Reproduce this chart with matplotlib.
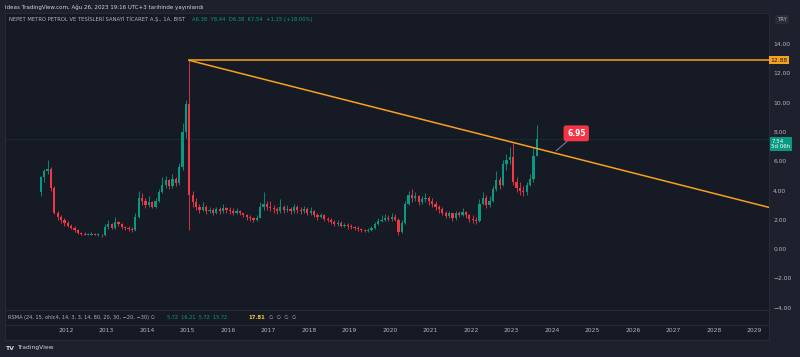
import matplotlib
matplotlib.use("Agg")
import matplotlib.pyplot as plt
import matplotlib.transforms as mtransforms
import numpy as np

# monthly candles, May 2011 .. Aug 2023 (open = previous close)
first_open = 3.9
start_year, start_month = 2011, 5
close = [
    4.9, 5.3, 5.5, 4.2, 2.5, 2.2, 2.0, 1.8,                          # 2011 May-Dec
    1.6, 1.45, 1.3, 1.1, 1.05, 1.0, 1.0, 1.05, 1.0, 1.0, 0.95, 1.5,  # 2012
    1.7, 1.45, 1.85, 1.7, 1.5, 1.45, 1.35, 1.3, 2.2, 3.5, 3.3, 3.0,  # 2013
    3.2, 2.9, 3.3, 3.9, 4.4, 4.7, 4.3, 4.8, 4.5, 5.6, 8.0, 9.9,      # 2014
    3.7, 3.2, 2.9, 2.7, 2.9, 2.6, 2.7, 2.5, 2.75, 2.6, 2.8, 2.7,     # 2015
    2.6, 2.5, 2.6, 2.45, 2.3, 2.2, 2.1, 2.0, 2.15, 2.9, 3.1, 2.9,    # 2016
    2.8, 2.75, 2.6, 2.85, 2.65, 2.75, 2.6, 2.85, 2.7, 2.6, 2.75, 2.5,  # 2017
    2.6, 2.35, 2.2, 2.3, 2.05, 2.0, 1.85, 1.7, 1.8, 1.6, 1.65, 1.55,   # 2018
    1.5, 1.45, 1.35, 1.3, 1.25, 1.3, 1.45, 1.7, 1.95, 2.0, 2.15, 2.05, # 2019
    2.2, 2.0, 1.2, 1.8, 3.1, 3.7, 3.5, 3.6, 3.2, 3.4, 3.5, 3.3,      # 2020
    3.1, 2.9, 2.75, 2.5, 2.25, 2.45, 2.1, 2.45, 2.35, 2.55, 2.3, 2.05, # 2021
    2.0, 1.9, 3.1, 3.5, 3.0, 3.3, 4.1, 4.7, 4.4, 5.8, 6.1, 6.3,      # 2022
    4.6, 4.2, 4.0, 3.9, 4.4, 4.8, 6.38, 7.54,                        # 2023 Jan-Aug
]
high = [
    5.0, 5.5, 6.05, 5.6, 4.3, 2.6, 2.3, 2.1,
    1.9, 1.7, 1.55, 1.35, 1.2, 1.15, 1.1, 1.15, 1.1, 1.1, 1.05, 1.7,
    2.0, 1.8, 2.2, 1.95, 1.8, 1.6, 1.55, 1.5, 2.5, 4.0, 3.8, 3.5,
    3.6, 3.3, 3.5, 4.1, 4.9, 5.0, 4.8, 5.1, 4.9, 5.9, 8.6, 10.2,
    12.88, 4.0, 3.5, 3.1, 3.2, 3.0, 2.9, 2.8, 2.9, 2.85, 3.1, 2.9,
    2.9, 2.8, 2.8, 2.7, 2.5, 2.4, 2.3, 2.2, 2.3, 3.2, 3.9, 3.3,
    3.3, 3.0, 2.9, 3.4, 3.0, 3.0, 2.9, 3.1, 3.0, 2.9, 2.95, 2.85,
    2.9, 2.7, 2.5, 2.5, 2.4, 2.2, 2.1, 2.0, 2.0, 1.9, 1.8, 1.8,
    1.7, 1.6, 1.55, 1.45, 1.4, 1.45, 1.6, 1.85, 2.1, 2.3, 2.4, 2.3,
    2.5, 2.4, 2.1, 2.0, 3.3, 4.0, 4.1, 3.9, 3.7, 3.6, 3.8, 3.6,
    3.5, 3.3, 3.0, 2.9, 2.6, 2.6, 2.5, 2.6, 2.6, 2.8, 2.6, 2.4,
    2.3, 2.2, 3.4, 3.9, 3.7, 3.6, 4.3, 5.3, 4.9, 6.1, 6.5, 7.0,
    7.25, 4.9, 4.6, 4.3, 4.6, 5.1, 6.9, 8.44,
]
low = [
    3.6, 4.6, 5.1, 4.0, 2.4, 2.0, 1.8, 1.6,
    1.5, 1.35, 1.2, 1.05, 1.0, 0.95, 0.95, 0.95, 0.95, 0.9, 0.85, 0.9,
    1.4, 1.35, 1.4, 1.6, 1.4, 1.3, 1.25, 1.2, 1.25, 2.1, 3.0, 2.8,
    2.9, 2.8, 2.8, 3.2, 3.8, 4.2, 4.1, 4.2, 4.3, 4.4, 5.4, 7.6,
    1.3, 2.9, 2.7, 2.5, 2.6, 2.4, 2.5, 2.3, 2.4, 2.4, 2.5, 2.5,
    2.4, 2.3, 2.4, 2.3, 2.2, 2.0, 1.95, 1.85, 1.9, 2.1, 2.7, 2.7,
    2.6, 2.5, 2.4, 2.5, 2.5, 2.55, 2.4, 2.5, 2.5, 2.4, 2.5, 2.3,
    2.3, 2.2, 2.0, 2.1, 1.95, 1.85, 1.7, 1.55, 1.6, 1.5, 1.5, 1.4,
    1.35, 1.3, 1.25, 1.2, 1.15, 1.15, 1.25, 1.4, 1.65, 1.85, 1.9, 1.9,
    1.9, 1.9, 1.0, 1.1, 1.7, 3.0, 3.2, 3.3, 3.0, 3.1, 3.2, 3.0,
    2.9, 2.7, 2.5, 2.3, 2.1, 2.1, 1.95, 2.0, 2.2, 2.25, 2.1, 1.85,
    1.8, 1.7, 1.85, 3.0, 2.8, 2.9, 3.2, 4.0, 4.1, 4.3, 5.4, 5.8,
    4.4, 3.9, 3.7, 3.6, 3.7, 4.3, 4.6, 6.38,
]

# drawings on the chart
hline_price = 12.88
trend_start = (2015.04, 12.88)
trend_end = (2029.36, 2.85)
callout_value = "6.95"
callout_at = (2024.1, 6.7)
callout_box = (2024.6, 7.9)
last_price = 7.54

price_ticks = [-4, -2, 0, 2, 4, 6, 8, 10, 12, 14]
year_ticks = list(range(2012, 2030))

UP, DOWN = "#089981", "#f23645"
ORANGE = "#f7a21b"
BG, PANE = "#1e212d", "#161a25"
TXT = "#b2b5be"

n = len(close)
opens = [first_open] + close[:-1]
x = np.array([start_year + (start_month - 1 + i + 0.5) / 12 for i in range(n)])
up = np.array(close) >= np.array(opens)
colors = np.where(up, UP, DOWN)

W, H = 800, 357
fig = plt.figure(figsize=(8, 3.57), dpi=100, facecolor=BG)


def rect(x0, y0, x1, y1):
    return [x0 / W, 1 - y1 / H, (x1 - x0) / W, (y1 - y0) / H]


ax = fig.add_axes(rect(5, 13, 769, 310), facecolor=PANE)
ind = fig.add_axes(rect(5, 310, 769, 325), facecolor=PANE)
tax = fig.add_axes(rect(5, 325, 769, 340), facecolor=PANE)

xmin, xmax = 2010.49, 2029.36
for a in (ax, ind, tax):
    a.set_xlim(xmin, xmax)
    for s in a.spines.values():
        s.set_color("#2a2e39")
        s.set_linewidth(0.6)

ax.set_ylim(-4.15, 16.11)

# candles
bottoms = np.minimum(opens, close)
heights = np.maximum(np.abs(np.array(close) - np.array(opens)), 0.04)
ax.vlines(x, low, high, colors=colors, linewidth=0.6, zorder=2)
ax.bar(x, heights, bottom=bottoms, width=0.055, color=colors, linewidth=0, zorder=3)

# drawings
ax.plot([trend_start[0], xmax], [hline_price, hline_price], color=ORANGE, lw=1.1, zorder=4)
ax.plot([trend_start[0], trend_end[0]], [trend_start[1], trend_end[1]],
        color=ORANGE, lw=1.1, zorder=4)
ax.axhline(last_price, color=UP, lw=0.5, ls=(0, (1, 2)), alpha=0.6, zorder=1)

ax.annotate(callout_value, xy=callout_at, xytext=callout_box,
            color="white", fontsize=5.5, fontweight="bold", ha="center", va="center",
            bbox=dict(boxstyle="round,pad=0.45,rounding_size=0.3", fc=DOWN, ec="none"),
            arrowprops=dict(arrowstyle="-", color="#7a86b8", lw=0.7,
                            shrinkA=0, shrinkB=0), zorder=6)

# right price scale
ax.yaxis.tick_right()
ax.set_yticks(price_ticks)
ax.set_yticklabels([f"{v:.2f}".replace("-", "\u2212") for v in price_ticks])
ax.tick_params(axis="y", length=0, pad=3, labelsize=4.3, labelcolor=TXT)
ax.set_xticks([])
trans = mtransforms.blended_transform_factory(ax.transAxes, ax.transData)
ax.text(1.002, hline_price, "12.88", transform=trans, fontsize=4.3, color="#131722",
        va="center", ha="left",
        bbox=dict(boxstyle="square,pad=0.25", fc=ORANGE, ec="none"), zorder=7)
ax.text(1.003, last_price - 0.35, "7.54\n5d 06h", transform=trans, fontsize=4.0,
        color="white", va="center", ha="left", linespacing=1.1,
        bbox=dict(boxstyle="square,pad=0.3", fc=UP, ec="none"), zorder=7)

# indicator pane with legend
ind.set_xticks([])
ind.set_yticks([])
ind.text(0.004, 0.5, "RSMA (24, 15, ohlc4, 14, 3, 3, 14, 80, 20, 30, \u221220, \u221230) \u2205",
         transform=ind.transAxes, fontsize=3.6, color=TXT, va="center")
ind.text(0.212, 0.5, "5.72  16.21  5.72  15.72", transform=ind.transAxes,
         fontsize=3.6, color=UP, va="center")
ind.text(0.318, 0.5, "17.81", transform=ind.transAxes, fontsize=3.8,
         color="#f5c542", fontweight="bold", va="center")
ind.text(0.345, 0.5, "\u2205  \u2205  \u2205  \u2205", transform=ind.transAxes,
         fontsize=3.6, color=TXT, va="center")

# time axis
tax.set_yticks([])
tax.set_xticks(year_ticks)
tax.set_xticklabels([str(y) for y in year_ticks])
tax.tick_params(axis="x", length=0, pad=-9, labelsize=4.3, labelcolor=TXT)

# header & footer
fig.text(5 / W, 1 - 7 / H, "Ideas TradingView.com, Ağu 26, 2023 19:16 UTC+3 tarihinde yayınlandı",
         fontsize=4.0, color="#d1d4dc", va="center")
fig.text(9 / W, 1 - 19.5 / H, "NEPET METRO PETROL VE TESİSLERİ SANAYİ TİCARET A.Ş., 1A, BIST",
         fontsize=3.8, color=TXT, va="center")
fig.text(192 / W, 1 - 19.5 / H, "A6.38  Y8.44  D6.38  K7.54  +1.15 (+18.00%)",
         fontsize=3.8, color=UP, va="center")
fig.text(782 / W, 1 - 19.5 / H, "TRY", fontsize=4.0, color=TXT, va="center", ha="center",
         bbox=dict(boxstyle="round,pad=0.35", fc="#2a2e39", ec="none"))
fig.text(5 / W, 1 - 348 / H, "TV", fontsize=4.5, color="#d1d4dc", fontweight="bold", va="center")
fig.text(17 / W, 1 - 348 / H, "TradingView", fontsize=4.3, color="#d1d4dc", va="center")

fig.savefig("out.png", dpi=100, facecolor=BG)
